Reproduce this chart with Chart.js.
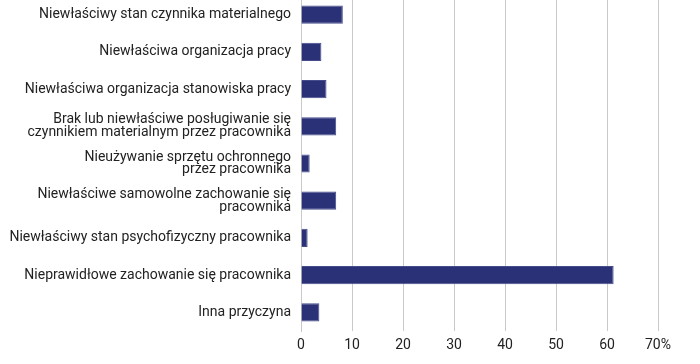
<!DOCTYPE html>
<html>
<head>
<meta charset="utf-8">
<script src="https://cdn.jsdelivr.net/npm/chart.js@4/dist/chart.umd.min.js"></script>
<style>
  html, body { margin: 0; padding: 0; background: #fff; overflow: hidden; }
  #wrap { position: absolute; left: 0; top: -4px; width: 700px; height: 368px; }
</style>
</head>
<body>
<div id="wrap"><canvas id="chart"></canvas></div>
<script>
const categories = [
  'Niewłaściwy stan czynnika materialnego',
  'Niewłaściwa organizacja pracy',
  'Niewłaściwa organizacja stanowiska pracy',
  ['Brak lub niewłaściwe posługiwanie się', 'czynnikiem materialnym przez pracownika'],
  ['Nieużywanie sprzętu ochronnego', 'przez pracownika'],
  ['Niewłaściwe samowolne zachowanie się', 'pracownika'],
  'Niewłaściwy stan psychofizyczny pracownika',
  'Nieprawidłowe zachowanie się pracownika',
  'Inna przyczyna'
];
const values = [8.2, 4.0, 5.0, 6.9, 1.7, 6.9, 1.3, 61.3, 3.6];
const tickLabels = ['0', '10', '20', '30', '40', '50', '60', '70%'];

const ctx = document.getElementById('chart').getContext('2d');
new Chart(ctx, {
  type: 'bar',
  data: {
    labels: categories,
    datasets: [{
      data: values,
      backgroundColor: '#2a3177',
      borderColor: '#454c8c',
      borderWidth: 1,
      categoryPercentage: 1,
      barPercentage: 0.49
    }]
  },
  options: {
    indexAxis: 'y',
    responsive: true,
    maintainAspectRatio: false,
    animation: false,
    layout: { padding: { top: 0, right: 42, bottom: 0, left: 0 } },
    plugins: { legend: { display: false }, tooltip: { enabled: false } },
    scales: {
      x: {
        min: 0,
        max: 70,
        ticks: {
          stepSize: 10,
          color: '#222',
          padding: 6,
          font: { family: 'Roboto', size: 14 },
          callback: (v, i) => tickLabels[i]
        },
        grid: { color: '#c9c9c9', lineWidth: 1, drawTicks: false },
        border: { display: false },
        afterFit: (s) => { s.height = 33; }
      },
      y: {
        ticks: {
          color: '#222',
          padding: 10,
          font: { family: 'Roboto', size: 14, lineHeight: 0.92 }
        },
        grid: { display: false, drawTicks: false },
        border: { display: true, color: '#c9c9c9', width: 1 },
        afterFit: (s) => { s.width = 301; s.paddingTop = 0; s.paddingBottom = 0; }
      }
    }
  }
});
</script>
</body>
</html>
